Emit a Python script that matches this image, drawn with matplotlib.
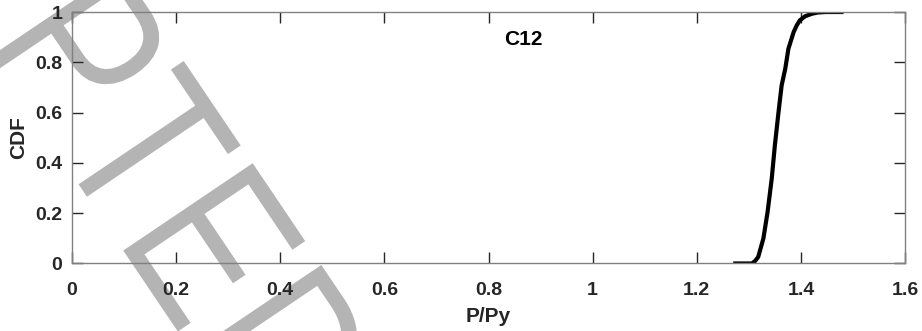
import numpy as np
import matplotlib
matplotlib.use("Agg")
import matplotlib.pyplot as plt
from matplotlib.textpath import TextPath
from matplotlib.patches import PathPatch
from matplotlib.font_manager import FontProperties
from matplotlib.transforms import Affine2D

plt.rcParams['font.family'] = ['Liberation Sans', 'DejaVu Sans']

# CDF of P/Py for column C12
p_py = [1.270, 1.306, 1.312, 1.318, 1.328, 1.336, 1.344, 1.350, 1.357,
        1.363, 1.370, 1.376, 1.386, 1.392, 1.398, 1.408, 1.421, 1.432,
        1.447, 1.482]
cdf = [0.0, 0.0, 0.01, 0.026, 0.10, 0.205, 0.338, 0.47, 0.602,
       0.708, 0.775, 0.854, 0.92, 0.947, 0.967, 0.983, 0.993, 0.998,
       1.0, 1.0]

xticks = [0, 0.2, 0.4, 0.6, 0.8, 1, 1.2, 1.4, 1.6]
xticklabels = ['0', '0.2', '0.4', '0.6', '0.8', '1', '1.2', '1.4', '1.6']
yticks = [0, 0.2, 0.4, 0.6, 0.8, 1]
yticklabels = ['0', '0.2', '0.4', '0.6', '0.8', '1']

fig = plt.figure(figsize=(9.22, 3.31), dpi=100)

# watermark: narrowed, rotated text path in pixel coords, behind the axes
tp = TextPath((0, 0), 'ACCEPTED', size=230,
              prop=FontProperties(family='Liberation Sans'))
wm_tr = Affine2D().scale(0.8, 1).rotate_deg(-56).translate(-304, 712)
wm = PathPatch(tp, facecolor='#b4b4b4', edgecolor='white', lw=1.5,
               transform=wm_tr, zorder=-1)
fig.add_artist(wm)

ax = fig.add_axes([0.0781, 0.204, 0.9035, 0.7597])
ax.patch.set_alpha(0)

ax.plot(p_py, cdf, color='black', lw=3, solid_capstyle='butt')

ax.set_xlim(0, 1.6)
ax.set_ylim(0, 1)
ax.set_xticks(xticks)
ax.set_xticklabels(xticklabels)
ax.set_yticks(yticks)
ax.set_yticklabels(yticklabels)

for s in ax.spines.values():
    s.set_color('#808080')
    s.set_linewidth(1.0)
ax.tick_params(direction='in', length=8, width=1, color='#262626',
               top=True, right=True, labelsize=14, labelcolor='#262626')
ax.tick_params(axis='x', pad=13)
ax.tick_params(axis='y', pad=7)
for lab in ax.get_xticklabels() + ax.get_yticklabels():
    lab.set_fontweight('bold')

ax.set_xlabel('P/Py', fontsize=15, fontweight='bold', color='#262626', labelpad=6)
ax.set_ylabel('CDF', fontsize=15, fontweight='bold', color='#262626', labelpad=5)
ax.text(0.866, 0.89, 'C12', ha='center', va='center', fontsize=15,
        fontweight='bold', color='black')

fig.savefig('out.png', dpi=100)
